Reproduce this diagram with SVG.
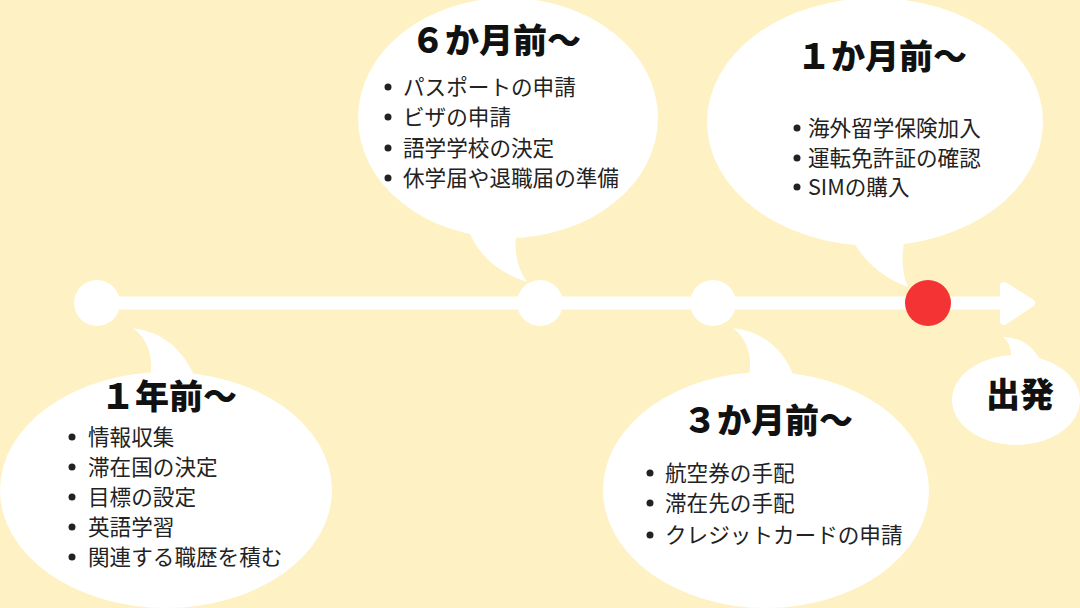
<svg xmlns="http://www.w3.org/2000/svg" width="1080" height="608" viewBox="0 0 1080 608">
<style>
.bub{fill:#ffffff}
.ttl{font-family:"Noto Sans CJK JP","Noto Sans",sans-serif;font-weight:900;font-size:34px;fill:#111}
.itm{font-family:"Noto Sans CJK JP","Noto Sans",sans-serif;font-size:21.6px;fill:#222}
.dot{fill:#222}
.node{fill:#ffffff}
</style>
<rect width="1080" height="608" fill="#FEF1C4"/>
<g id="connectors">
<line x1="97" y1="303" x2="1010" y2="303" stroke="#fff" stroke-width="13"/>
<polygon points="1004,286 1031,303 1004,321" fill="#fff" stroke="#fff" stroke-width="8" stroke-linejoin="round"/>
</g>
<g id="n-start"><circle class="node" cx="97" cy="303" r="23"/></g>
<g id="n-6m"><circle class="node" cx="540" cy="303" r="23"/></g>
<g id="n-3m"><circle class="node" cx="713" cy="303" r="23"/></g>
<g id="n-1m"><circle cx="928" cy="303" r="23" fill="#F43434"/></g>

<g id="b-1y">
<ellipse class="bub" cx="166" cy="490" rx="166" ry="118"/>
<path class="bub" d="M150,380 Q156,346 133,328 Q178,334 196,380 Z"/>
<text class="ttl" x="169" y="409" text-anchor="middle">１年前～</text>
<circle class="dot" cx="72" cy="437" r="3.5"/><text class="itm" x="88" y="445">情報収集</text>
<circle class="dot" cx="72" cy="467" r="3.5"/><text class="itm" x="88" y="475">滞在国の決定</text>
<circle class="dot" cx="72" cy="497" r="3.5"/><text class="itm" x="88" y="505">目標の設定</text>
<circle class="dot" cx="72" cy="527" r="3.5"/><text class="itm" x="88" y="535">英語学習</text>
<circle class="dot" cx="72" cy="557" r="3.5"/><text class="itm" x="88" y="565">関連する職歴を積む</text>
</g>

<g id="b-6m">
<ellipse class="bub" cx="508" cy="118" rx="150" ry="120"/>
<path class="bub" d="M466,222 Q478,266 527,282 Q510,258 518,222 Z"/>
<text class="ttl" x="496" y="53" text-anchor="middle">６か月前～</text>
<circle class="dot" cx="388" cy="87" r="3.5"/><text class="itm" x="403" y="95">パスポートの申請</text>
<circle class="dot" cx="388" cy="117" r="3.5"/><text class="itm" x="403" y="125">ビザの申請</text>
<circle class="dot" cx="388" cy="148" r="3.5"/><text class="itm" x="403" y="156">語学学校の決定</text>
<circle class="dot" cx="388" cy="178" r="3.5"/><text class="itm" x="403" y="186">休学届や退職届の準備</text>
</g>

<g id="b-1m">
<ellipse class="bub" cx="875" cy="122" rx="168" ry="124"/>
<path class="bub" d="M846,228 Q866,272 908,287 Q898,264 906,232 Z"/>
<text class="ttl" x="882" y="69" text-anchor="middle">１か月前～</text>
<circle class="dot" cx="797" cy="128" r="3.5"/><text class="itm" x="808" y="136">海外留学保険加入</text>
<circle class="dot" cx="797" cy="158" r="3.5"/><text class="itm" x="808" y="166">運転免許証の確認</text>
<circle class="dot" cx="797" cy="187" r="3.5"/><text class="itm" x="808" y="195">SIMの購入</text>
</g>

<g id="b-3m">
<ellipse class="bub" cx="766" cy="490" rx="163" ry="118"/>
<path class="bub" d="M748,382 Q756,346 733,328 Q780,334 796,382 Z"/>
<text class="ttl" x="768" y="433" text-anchor="middle">３か月前～</text>
<circle class="dot" cx="650" cy="473" r="3.5"/><text class="itm" x="665" y="481">航空券の手配</text>
<circle class="dot" cx="650" cy="503" r="3.5"/><text class="itm" x="665" y="511">滞在先の手配</text>
<circle class="dot" cx="650" cy="535" r="3.5"/><text class="itm" x="665" y="543">クレジットカードの申請</text>
</g>

<g id="b-go">
<ellipse class="bub" cx="1016" cy="400" rx="64" ry="45"/>
<path class="bub" d="M1009,368 Q1015,346 1003,337 Q1030,338 1041,362 Z"/>
<text class="ttl" x="1020" y="407" text-anchor="middle">出発</text>
</g>
</svg>
